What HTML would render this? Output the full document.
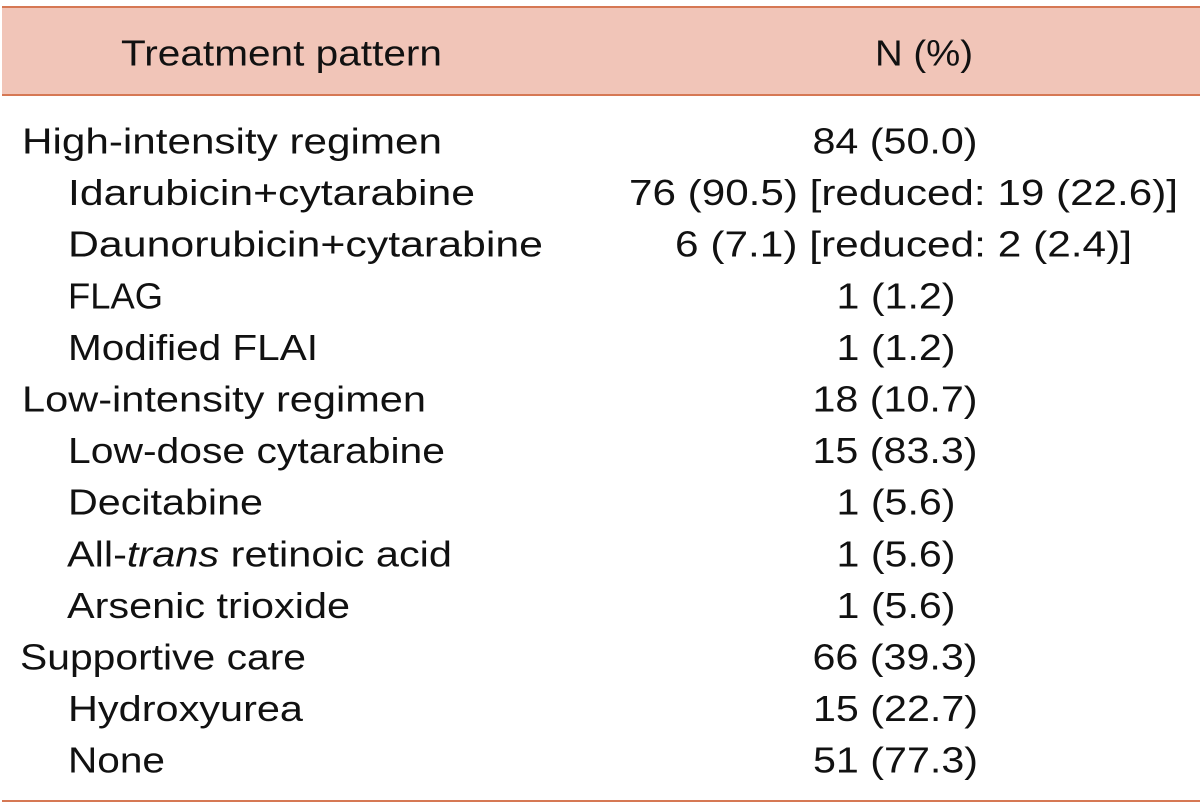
<!DOCTYPE html>
<html>
<head>
<meta charset="utf-8">
<style>
  html, body { margin: 0; padding: 0; background: #ffffff; }
  body { width: 1200px; height: 805px; overflow: hidden; }
  svg { display: block; }
  text { font-family: "Liberation Sans", "DejaVu Sans", sans-serif; font-size: 36px; fill: #111111; }
</style>
</head>
<body>
<svg width="1200" height="805" viewBox="0 0 1200 805" xmlns="http://www.w3.org/2000/svg">
  <!-- header band -->
  <rect x="2" y="7" width="1198" height="88" fill="#f1c5b8"/>
  <line x1="2" y1="7" x2="1200" y2="7" stroke="#d67854" stroke-width="2"/>
  <line x1="2" y1="95" x2="1200" y2="95" stroke="#d67854" stroke-width="2"/>
  <line x1="2" y1="801" x2="1200" y2="801" stroke="#d67854" stroke-width="2"/>

  <!-- header text -->
  <text x="121" y="65.5" textLength="321" lengthAdjust="spacingAndGlyphs">Treatment pattern</text>
  <text x="875" y="65.5" textLength="98" lengthAdjust="spacingAndGlyphs">N (%)</text>

  <!-- left column -->
  <text x="22" y="153.5" textLength="420" lengthAdjust="spacingAndGlyphs">High-intensity regimen</text>
  <text x="68" y="205.1" textLength="407" lengthAdjust="spacingAndGlyphs">Idarubicin+cytarabine</text>
  <text x="68" y="256.7" textLength="475" lengthAdjust="spacingAndGlyphs">Daunorubicin+cytarabine</text>
  <text x="68" y="308.3" textLength="95" lengthAdjust="spacingAndGlyphs">FLAG</text>
  <text x="68" y="359.9" textLength="250" lengthAdjust="spacingAndGlyphs">Modified FLAI</text>
  <text x="22" y="411.5" textLength="404" lengthAdjust="spacingAndGlyphs">Low-intensity regimen</text>
  <text x="68" y="463.1" textLength="377" lengthAdjust="spacingAndGlyphs">Low-dose cytarabine</text>
  <text x="68" y="514.7" textLength="195" lengthAdjust="spacingAndGlyphs">Decitabine</text>
  <text x="67" y="566.3" textLength="385" lengthAdjust="spacingAndGlyphs">All-<tspan font-style="italic">trans</tspan> retinoic acid</text>
  <text x="67" y="617.9" textLength="283" lengthAdjust="spacingAndGlyphs">Arsenic trioxide</text>
  <text x="20" y="669.5" textLength="286" lengthAdjust="spacingAndGlyphs">Supportive care</text>
  <text x="68" y="721.1" textLength="235" lengthAdjust="spacingAndGlyphs">Hydroxyurea</text>
  <text x="68" y="772.7" textLength="97" lengthAdjust="spacingAndGlyphs">None</text>

  <!-- right column -->
  <text x="895" y="153.5" text-anchor="middle" textLength="165" lengthAdjust="spacingAndGlyphs">84 (50.0)</text>
  <text x="903.5" y="205.1" text-anchor="middle" textLength="549" lengthAdjust="spacingAndGlyphs">76 (90.5) [reduced: 19 (22.6)]</text>
  <text x="903.5" y="256.7" text-anchor="middle" textLength="457" lengthAdjust="spacingAndGlyphs">6 (7.1) [reduced: 2 (2.4)]</text>
  <text x="896" y="308.3" text-anchor="middle" textLength="119" lengthAdjust="spacingAndGlyphs">1 (1.2)</text>
  <text x="896" y="359.9" text-anchor="middle" textLength="119" lengthAdjust="spacingAndGlyphs">1 (1.2)</text>
  <text x="895" y="411.5" text-anchor="middle" textLength="165" lengthAdjust="spacingAndGlyphs">18 (10.7)</text>
  <text x="895" y="463.1" text-anchor="middle" textLength="165" lengthAdjust="spacingAndGlyphs">15 (83.3)</text>
  <text x="896" y="514.7" text-anchor="middle" textLength="119" lengthAdjust="spacingAndGlyphs">1 (5.6)</text>
  <text x="896" y="566.3" text-anchor="middle" textLength="119" lengthAdjust="spacingAndGlyphs">1 (5.6)</text>
  <text x="896" y="617.9" text-anchor="middle" textLength="119" lengthAdjust="spacingAndGlyphs">1 (5.6)</text>
  <text x="895" y="669.5" text-anchor="middle" textLength="165" lengthAdjust="spacingAndGlyphs">66 (39.3)</text>
  <text x="895.5" y="721.1" text-anchor="middle" textLength="165" lengthAdjust="spacingAndGlyphs">15 (22.7)</text>
  <text x="895.5" y="772.7" text-anchor="middle" textLength="165" lengthAdjust="spacingAndGlyphs">51 (77.3)</text>
</svg>
</body>
</html>
